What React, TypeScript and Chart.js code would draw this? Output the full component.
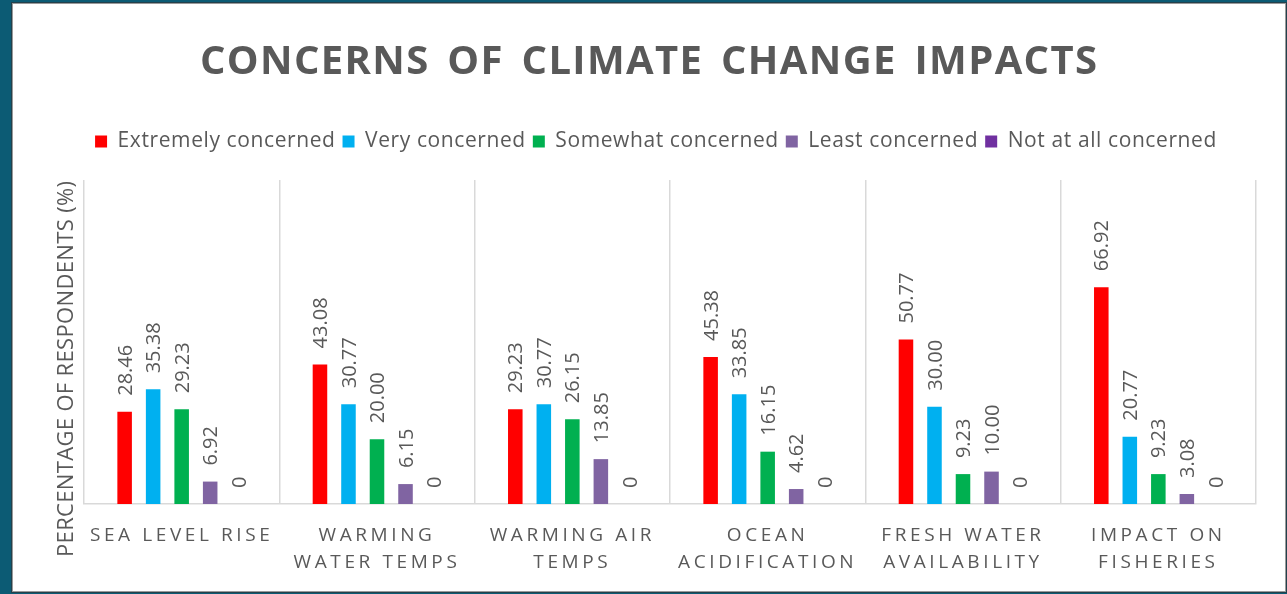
import React, { useEffect, useRef } from 'react';
import { Chart, registerables, CategoryScale } from 'chart.js';

// ---------- data ----------
const TITLE = 'CONCERNS OF CLIMATE CHANGE IMPACTS';
const Y_TITLE = 'PERCENTAGE OF RESPONDENTS (%)';
const categories = [
  ['SEA LEVEL RISE'],
  ['WARMING', 'WATER TEMPS'],
  ['WARMING AIR', 'TEMPS'],
  ['OCEAN', 'ACIDIFICATION'],
  ['FRESH WATER', 'AVAILABILITY'],
  ['IMPACT ON', 'FISHERIES'],
];
const seriesNames = ['Extremely concerned', 'Very concerned', 'Somewhat concerned', 'Least concerned', 'Not at all concerned'];
const extremely = [28.46, 43.08, 29.23, 45.38, 50.77, 66.92];
const very = [35.38, 30.77, 30.77, 33.85, 30.0, 20.77];
const somewhat = [29.23, 20.0, 26.15, 16.15, 9.23, 9.23];
const least = [6.92, 6.15, 13.85, 4.62, 10.0, 3.08];
const notAtAll = [0, 0, 0, 0, 0, 0];
const seriesValues = [extremely, very, somewhat, least, notAtAll];
const Y_MIN = 0;
const Y_MAX = 100;

// ---------- style ----------
const FONT = "'Open Sans', 'Noto Sans', sans-serif";
const TEXT = '#595959';
const colors = ['#FF0000', '#00B0F0', '#00B050', '#8064A2', '#7030A0'];
const LEGEND_LS = 0.6;
const XLABEL_LS = 3.6;
const LEGEND_GAP = 18;
const LABEL_SIZE = 20;
const LABEL_GAP = 16;

class SpacedCategoryScale extends CategoryScale {
  static id = 'spacedCategory';
  static defaults = {};
  drawLabels(chartArea: any) {
    const ctx: any = this.ctx;
    ctx.save();
    ctx.letterSpacing = XLABEL_LS + 'px';
    // @ts-ignore
    super.drawLabels(chartArea);
    ctx.restore();
  }
}

Chart.register(...registerables, SpacedCategoryScale as any);

const spacingPlugin = {
  id: 'spacingPlugin',
  beforeLayout(chart: any) {
    const lg = chart.legend;
    if (lg && !lg.__patched) {
      const f = lg.fit;
      lg.fit = function () {
        f.call(this);
        this.height += LEGEND_GAP;
      };
      lg.__patched = true;
    }
    chart.ctx.letterSpacing = LEGEND_LS + 'px';
  },
  afterLayout(chart: any) {
    chart.ctx.letterSpacing = '0px';
  },
  beforeDraw(chart: any) {
    chart.ctx.letterSpacing = LEGEND_LS + 'px';
  },
  afterDatasetsDraw(chart: any) {
    const ctx: any = chart.ctx;
    ctx.save();
    ctx.letterSpacing = '0px';
    ctx.font = `${LABEL_SIZE}px ${FONT}`;
    ctx.fillStyle = TEXT;
    ctx.textAlign = 'left';
    ctx.textBaseline = 'alphabetic';
    chart.data.datasets.forEach((ds: any, i: number) => {
      const meta = chart.getDatasetMeta(i);
      meta.data.forEach((bar: any, j: number) => {
        const v = ds.data[j] as number;
        const text = v === 0 ? '0' : v.toFixed(2);
        ctx.save();
        ctx.translate(bar.x + (LABEL_SIZE * 0.714) / 2, bar.y - LABEL_GAP);
        ctx.rotate(-Math.PI / 2);
        ctx.fillText(text, 0, 0);
        ctx.restore();
      });
    });
    ctx.restore();
  },
  afterDraw(chart: any) {
    const ctx: any = chart.ctx;
    // main title
    ctx.save();
    ctx.font = `bold 40px ${FONT}`;
    ctx.fillStyle = TEXT;
    ctx.textAlign = 'left';
    ctx.textBaseline = 'alphabetic';
    ctx.letterSpacing = '0px';
    ctx.wordSpacing = '6px';
    const tw = 897;
    const w0 = ctx.measureText(TITLE).width;
    ctx.letterSpacing = (tw - w0) / (TITLE.length - 1) + 'px';
    ctx.fillText(TITLE, 648.5 - tw / 2, 74);
    ctx.restore();

    // y axis title
    ctx.save();
    ctx.font = `22px ${FONT}`;
    ctx.fillStyle = TEXT;
    ctx.textAlign = 'left';
    ctx.textBaseline = 'alphabetic';
    ctx.letterSpacing = '0px';
    const yl = 376;
    const y0 = ctx.measureText(Y_TITLE).width;
    ctx.letterSpacing = (yl - y0) / (Y_TITLE.length - 1) + 'px';
    ctx.translate(73, 369 + yl / 2);
    ctx.rotate(-Math.PI / 2);
    ctx.fillText(Y_TITLE, 0, 0);
    ctx.restore();

    ctx.letterSpacing = '0px';
  },
};

export default function App() {
  const ref = useRef<HTMLCanvasElement>(null);
  useEffect(() => {
    document.body.style.margin = '0';
    Chart.defaults.font.family = FONT;
    const chart = new Chart(ref.current as HTMLCanvasElement, {
      type: 'bar',
      data: {
        labels: categories as any,
        datasets: seriesNames.map((name, i) => ({
          label: name,
          data: seriesValues[i],
          backgroundColor: colors[i],
          borderWidth: 0,
          categoryPercentage: 0.73,
          barPercentage: 0.51,
        })),
      },
      options: {
        responsive: false,
        animation: false,
        events: [],
        layout: { padding: { top: 124, left: 56, right: 31, bottom: 0 } },
        plugins: {
          legend: {
            position: 'top',
            labels: {
              boxWidth: 12,
              boxHeight: 12,
              padding: 7,
              color: TEXT,
              font: { size: 21, family: FONT },
            },
          },
          tooltip: { enabled: false },
          title: { display: false },
        },
        scales: {
          x: {
            type: 'spacedCategory' as any,
            offset: true,
            grid: { offset: true, color: '#d9d9d9', lineWidth: 1.5, drawTicks: false },
            border: { color: '#d9d9d9', width: 1.5 },
            ticks: {
              color: TEXT,
              font: { size: 19, lineHeight: 27 / 19, family: FONT },
              padding: 18,
              maxRotation: 0,
              minRotation: 0,
              autoSkip: false,
            },
            afterFit: (s: any) => {
              s.height = 90;
            },
          } as any,
          y: {
            min: Y_MIN,
            max: Y_MAX,
            grid: { display: false },
            border: { display: false },
            ticks: { display: false },
            afterFit: (s: any) => {
              s.width = 28;
            },
          },
        },
      },
      plugins: [spacingPlugin as any],
    });
    return () => chart.destroy();
  }, []);

  return (
    <div style={{ position: 'fixed', left: 0, top: 0, width: 1287, height: 594, background: '#0c5b74', overflow: 'hidden' }}>
      <div
        style={{
          position: 'absolute',
          left: 12,
          top: 3,
          width: 1274,
          height: 589,
          background: '#ffffff',
          border: '1px solid #9a9a9a',
          boxSizing: 'border-box',
          boxShadow: '0 0 0 1px #23414c',
        }}
      />
      <canvas ref={ref} width={1287} height={594} style={{ position: 'absolute', left: 0, top: 0, width: 1287, height: 594 }} />
    </div>
  );
}
